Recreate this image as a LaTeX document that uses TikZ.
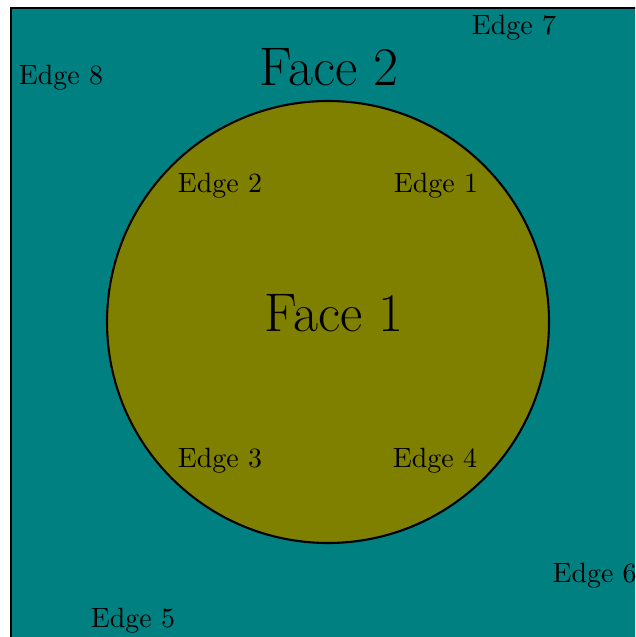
\documentclass[tikz,border=0pt]{standalone}
\definecolor{facetwo}{RGB}{0,128,128}
\definecolor{faceone}{RGB}{128,128,0}
\begin{document}
\begin{tikzpicture}[x=0.3585pt,y=-0.3585pt,
  edgelbl/.style={inner sep=0pt,font=\normalsize},
  facelbl/.style={inner sep=0pt,font=\fontsize{19.5pt}{23pt}\selectfont},
  outline/.style={draw=black,line width=0.75pt}]
\useasboundingbox (0,0) rectangle (635,637);
\clip (0,0) rectangle (635,637);
\path[fill=facetwo,outline] (11,8) rectangle (660,660);
\node[circle,minimum size=442*0.3585pt,fill=faceone,outline,inner sep=0pt] (f1) at (328,322) {};
\node[facelbl] (face2) at (329,67) {Face 2};
\node[facelbl] (face1) at (334,313) {Face 1};
\node[edgelbl] (e7) at (514,28) {Edge 7};
\node[edgelbl] (e8) at (61,78) {Edge 8};
\node[edgelbl] (e2) at (220,186) {Edge 2};
\node[edgelbl] (e1) at (436,186) {Edge 1};
\node[edgelbl] (e3) at (220,461) {Edge 3};
\node[edgelbl] (e4) at (435,461) {Edge 4};
\node[edgelbl,anchor=west] (e6) at (552,576) {Edge 6};
\node[edgelbl] (e5) at (133,621) {Edge 5};
\end{tikzpicture}
\end{document}
